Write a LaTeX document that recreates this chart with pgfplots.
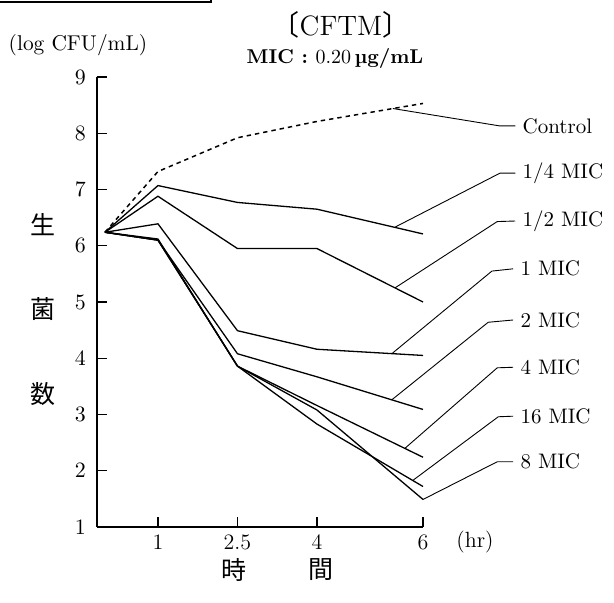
\documentclass[border=0pt]{standalone}
\usepackage{fontspec}
\usepackage{pgfplots}
\pgfplotsset{compat=1.18}
\newfontfamily\cjk{Noto Sans CJK JP}
\begin{document}
\begin{tikzpicture}
\path[use as bounding box] (-48.5pt,-37.5pt) rectangle (258.5pt,263.5pt);
\begin{axis}[
  at={(0,0)}, anchor=south west,
  scale only axis, width=163pt, height=225pt,
  xmin=-0.15, xmax=6, ymin=1, ymax=9,
  axis lines=left, axis line style={line width=0.75pt, -},
  xtick={1,2.5,4,6}, xticklabels={1,2.5,4,6},
  ytick={1,2,3,4,5,6,7,8,9},
  tick align=inside, major tick length=5pt,
  tick style={line width=0.6pt, black},
  yticklabel style={xshift=-2pt},
  xticklabel style={yshift=-0.5pt},
  ticklabel style={font=\fontsize{11}{12}\selectfont},
  clip=false,
]
% Control (dashed)
\addplot[black, line width=0.75pt, dash pattern=on 2.2pt off 2pt] coordinates {(0,6.24) (1,7.32) (2.5,7.92) (4,8.21) (6,8.53)};
% 1/4 MIC
\addplot[black, line width=0.65pt] coordinates {(0,6.24) (1,7.07) (2.5,6.77) (4,6.65) (6,6.21)};
% 1/2 MIC
\addplot[black, line width=0.65pt] coordinates {(0,6.24) (1,6.88) (2.5,5.95) (4,5.95) (6,5.00)};
% 1 MIC
\addplot[black, line width=0.65pt] coordinates {(0,6.24) (1,6.39) (2.5,4.49) (4,4.16) (6,4.05)};
% 2 MIC
\addplot[black, line width=0.65pt] coordinates {(0,6.24) (1,6.10) (2.5,4.08) (4,3.67) (6,3.09)};
% 4 MIC
\addplot[black, line width=0.65pt] coordinates {(0,6.24) (1,6.10) (2.5,3.86) (4,3.16) (6,2.24)};
% 8 MIC
\addplot[black, line width=0.65pt] coordinates {(0,6.24) (1,6.10) (2.5,3.86) (4,3.08) (6,1.49)};
% 16 MIC
\addplot[black, line width=0.65pt] coordinates {(0,6.24) (1,6.12) (2.5,3.86) (4,2.83) (6,1.72)};
% leader lines and labels
\begin{scope}[line width=0.45pt, every node/.style={anchor=west, inner sep=3.5pt, font=\fontsize{10.5}{12}\selectfont}]
\draw (axis cs:5.43,8.44) -- (axis cs:7.45,8.13) -- (axis cs:7.74,8.13) node {Control};
\draw (axis cs:5.47,6.33) -- (axis cs:7.45,7.29) -- (axis cs:7.74,7.29) node {1/4 MIC};
\draw (axis cs:5.47,5.25) -- (axis cs:7.40,6.43) -- (axis cs:7.74,6.44) node {1/2 MIC};
\draw (axis cs:5.41,4.08) -- (axis cs:7.30,5.55) -- (axis cs:7.70,5.59) node {1 MIC};
\draw (axis cs:5.41,3.26) -- (axis cs:7.23,4.64) -- (axis cs:7.70,4.68) node {2 MIC};
\draw (axis cs:5.66,2.40) -- (axis cs:7.40,3.83) -- (axis cs:7.70,3.84) node {4 MIC};
\draw (axis cs:5.81,1.83) -- (axis cs:7.42,2.96) -- (axis cs:7.70,2.97) node {16 MIC};
\draw (axis cs:6.00,1.49) -- (axis cs:7.40,2.16) -- (axis cs:7.70,2.16) node {8 MIC};
\end{scope}
\end{axis}
% decorations and titles
\draw[line width=1.2pt] (-60pt,262.5pt) rectangle (57pt,280pt);
\node[font=\fontsize{10.7}{12}\selectfont] at (-9.5pt,241pt) {(log CFU/mL)};
\node[font=\fontsize{14}{16}\selectfont] at (122pt,251pt) {{\cjk 〔}CFTM{\cjk 〕}};
\node[font=\fontsize{10}{12}\selectfont] at (119pt,234.5pt) {\textbf{MIC : }0.20\,\textbf{µg/mL}};
\node[font=\fontsize{12.5}{14}\selectfont\cjk] at (-27pt,151pt) {生};
\node[font=\fontsize{12.5}{14}\selectfont\cjk] at (-27pt,108.75pt) {菌};
\node[font=\fontsize{12.5}{14}\selectfont\cjk] at (-27pt,66.5pt) {数};
\node[font=\fontsize{12.5}{14}\selectfont\cjk] at (68.5pt,-21.5pt) {時};
\node[font=\fontsize{12.5}{14}\selectfont\cjk] at (112pt,-21.5pt) {間};
\node[font=\fontsize{11}{12}\selectfont] at (189pt,-7.5pt) {(hr)};
\end{tikzpicture}
\end{document}
